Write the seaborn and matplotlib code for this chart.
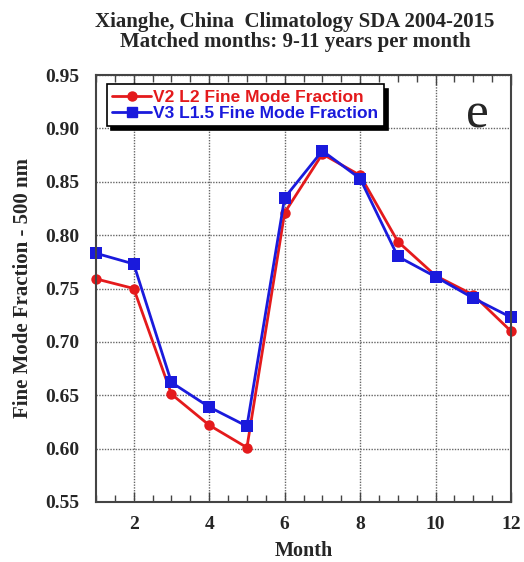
import matplotlib
matplotlib.use("Agg")
import matplotlib.pyplot as plt
from matplotlib.ticker import MultipleLocator, FormatStrFormatter
from matplotlib.lines import Line2D
import seaborn as sns
import pandas as pd

months = list(range(1, 13))
v2_l2 = [0.759, 0.750, 0.651, 0.622, 0.601, 0.821, 0.876, 0.856, 0.794, 0.762, 0.744, 0.710]
v3_l15 = [0.783, 0.773, 0.662, 0.639, 0.621, 0.835, 0.879, 0.853, 0.780, 0.761, 0.741, 0.723]
series_names = ["V2 L2 Fine Mode Fraction", "V3 L1.5 Fine Mode Fraction"]

df = pd.concat([
    pd.DataFrame({"Month": months, "FMF": v2_l2, "Series": series_names[0]}),
    pd.DataFrame({"Month": months, "FMF": v3_l15, "Series": series_names[1]}),
])

sns.set_style("white")
plt.rcParams["font.family"] = ["Liberation Serif", "DejaVu Serif"]

fig = plt.figure(figsize=(5.24, 5.62), dpi=100)
ax = fig.add_axes([96/524, 1-502/562, 415/524, 427/562])

palette = {series_names[0]: "#e41a1c", series_names[1]: "#1a1adc"}
sns.lineplot(data=df, x="Month", y="FMF", hue="Series", style="Series",
             markers={series_names[0]: "o", series_names[1]: "s"}, dashes=False,
             palette=palette, linewidth=2, ax=ax, legend=False,
             markeredgewidth=0)
for line in ax.get_lines():
    line.set_clip_on(False)
    if line.get_marker() == "o":
        line.set_markersize(7.5)
    else:
        line.set_markersize(8.5)

ax.set_xlim(1, 12)
ax.set_ylim(0.55, 0.95)
ax.xaxis.set_major_locator(MultipleLocator(2))
ax.xaxis.set_minor_locator(MultipleLocator(0.5))
ax.yaxis.set_major_locator(MultipleLocator(0.05))
ax.yaxis.set_major_formatter(FormatStrFormatter("%.2f"))
ax.grid(True, which="major", color="#666666", linestyle=(0, (1, 1)), linewidth=1.0)
ax.tick_params(axis="x", which="both", direction="in", top=True, bottom=True)
ax.tick_params(axis="x", which="major", length=7, width=1, color="#444444")
ax.tick_params(axis="x", which="minor", length=5, width=1, color="#444444")
ax.tick_params(axis="y", which="major", length=0)
for lab in ax.get_xticklabels() + ax.get_yticklabels():
    lab.set_fontweight("bold")
    lab.set_fontsize(14)
ax.tick_params(axis="x", pad=10)
ax.tick_params(axis="y", pad=12)
for s in ax.spines.values():
    s.set_color("#444444")
    s.set_linewidth(1.5)

ax.set_xlabel("Month", fontsize=14.5, fontweight="bold", labelpad=6)
ax.set_ylabel("Fine Mode Fraction - 500 nm", fontsize=15, fontweight="bold", labelpad=9)

fig.text(0.563, 0.978, "Xianghe, China  Climatology SDA 2004-2015\nMatched months: 9-11 years per month",
         ha="center", va="top", fontsize=15, fontweight="bold", linespacing=0.98)

ax.text(0.919, 0.906, "e", transform=ax.transAxes, fontsize=37, ha="center", va="center",
        family=["Liberation Serif"])

handles = [Line2D([], [], color=palette[series_names[0]], marker="o", markersize=6.5, linewidth=2),
           Line2D([], [], color=palette[series_names[1]], marker="s", markersize=6.5, linewidth=2)]
leg = ax.legend(handles, series_names, loc="upper left", bbox_to_anchor=(0.027, 0.978),
                frameon=True, fancybox=False, shadow={"color": "black", "alpha": 1, "ox": 3, "oy": -3},
                prop={"family": ["Liberation Sans"], "weight": "bold", "size": 12.5},
                handlelength=2.2, handletextpad=0.15, borderpad=0.3, labelspacing=0.05,
                borderaxespad=0)
leg.get_frame().set_edgecolor("black")
leg.get_frame().set_linewidth(1.2)
for txt, c in zip(leg.get_texts(), [palette[series_names[0]], palette[series_names[1]]]):
    txt.set_color(c)

fig.savefig("out.png", dpi=100)
